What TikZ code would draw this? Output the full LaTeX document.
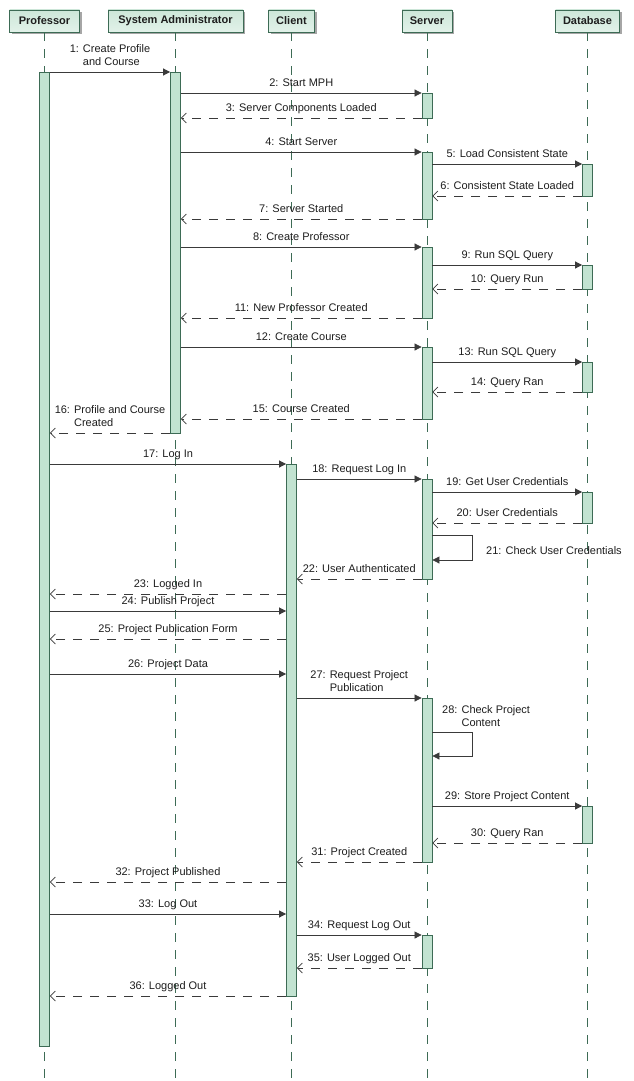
\documentclass[tikz,border=0pt]{standalone}
\usepackage{fontspec}
\setmainfont{Liberation Sans}
\usetikzlibrary{arrows.meta,shadows}

\definecolor{hdrtop}{HTML}{CDE7D9}
\definecolor{hdrbot}{HTML}{E2F2E9}
\definecolor{barfill}{HTML}{C2E3D1}
\definecolor{edge}{HTML}{3D6B55}
\definecolor{ink}{HTML}{3A3A3A}
\definecolor{txt}{HTML}{1E1E1E}

% activation bar on a lifeline: name, lifeline head, top, bottom
\newcommand\actbar[4]{%
  \node[bar, minimum height={(#4-#3)*1pt}, anchor=north] (#1) at (#2.south |- 0,#3) {};}
% label with the text after the number hanging under the first line
\newcommand\twoline[3]{\begin{tabular}[b]{@{}l@{ }l@{}}#1 & #2\\ & #3\end{tabular}}

\begin{document}
\begin{tikzpicture}[x=1pt,y=-1pt,
  every node/.style={text=txt},
  head/.style={draw=edge, top color=hdrtop, bottom color=hdrbot, line width=0.8pt,
    minimum height=22pt, inner sep=0pt, font=\fontsize{11}{12}\selectfont\bfseries,
    drop shadow={shadow xshift=2pt, shadow yshift=-2pt, fill=black!35, opacity=1}},
  bar/.style={draw=edge, fill=barfill, line width=0.8pt, minimum width=10pt, inner sep=0pt},
  life/.style={draw=edge, line width=0.7pt, dash pattern=on 9pt off 8pt},
  call/.style={draw=ink, line width=0.7pt, -{Triangle[length=7pt,width=7pt]}},
  ret/.style={draw=ink, line width=0.7pt, dash pattern=on 9pt off 8pt,
    -{Straight Barb[length=5pt,width=10pt,line width=0.7pt]}},
  lab/.style={midway, anchor=base, inner sep=0pt, yshift=6.5pt,
    font=\fontsize{11}{13}\selectfont},
  side/.style={anchor=base west, inner sep=0pt, font=\fontsize{11}{13}\selectfont},
]
\useasboundingbox[fill=white] (0,0) rectangle (633,1081);

% participants
\node[head, minimum width=70pt]  (prof) at (44.5,21)  {Professor};
\node[head, minimum width=135pt] (sa)   at (175.5,21) {System Administrator};
\node[head, minimum width=46pt]  (cl)   at (291.5,21) {Client};
\node[head, minimum width=50pt]  (sv)   at (427,21)   {Server};
\node[head, minimum width=64pt]  (db)   at (587.5,21) {Database};

% lifelines
\foreach \p in {prof,sa,cl,sv,db}
  \draw[life] (\p.south) -- (\p.south |- 0,1081);

% activation bars
\actbar{pa}{prof}{72}{1046}
\actbar{sa1}{sa}{72}{433}
\actbar{c1}{cl}{464}{996}
\actbar{s1}{sv}{93}{118}
\actbar{s2}{sv}{152}{219}
\actbar{s3}{sv}{247}{318}
\actbar{s4}{sv}{347}{419}
\actbar{s5}{sv}{479}{579}
\actbar{s6}{sv}{698}{862}
\actbar{s7}{sv}{935}{968}
\actbar{d1}{db}{164}{196}
\actbar{d2}{db}{265}{289}
\actbar{d3}{db}{362}{392}
\actbar{d4}{db}{492}{523}
\actbar{d5}{db}{806}{843}

% messages
\draw[call] (pa.east |- 0,72) -- (sa1.west |- 0,72)
  node[lab] {\twoline{1:}{Create Profile}{and Course}};
\draw[call] (sa1.east |- 0,93) -- (s1.west |- 0,93) node[lab] {2: Start MPH};
\draw[ret] (s1.west |- 0,118) -- (sa1.east |- 0,118) node[lab] {3: Server Components Loaded};
\draw[call] (sa1.east |- 0,152) -- (s2.west |- 0,152) node[lab] {4: Start Server};
\draw[call] (s2.east |- 0,164) -- (d1.west |- 0,164) node[lab] {5: Load Consistent State};
\draw[ret] (d1.west |- 0,196) -- (s2.east |- 0,196) node[lab] {6: Consistent State Loaded};
\draw[ret] (s2.west |- 0,219) -- (sa1.east |- 0,219) node[lab] {7: Server Started};
\draw[call] (sa1.east |- 0,247) -- (s3.west |- 0,247) node[lab] {8: Create Professor};
\draw[call] (s3.east |- 0,265) -- (d2.west |- 0,265) node[lab] {9: Run SQL Query};
\draw[ret] (d2.west |- 0,289) -- (s3.east |- 0,289) node[lab] {10: Query Run};
\draw[ret] (s3.west |- 0,318) -- (sa1.east |- 0,318) node[lab] {11: New Professor Created};
\draw[call] (sa1.east |- 0,347) -- (s4.west |- 0,347) node[lab] {12: Create Course};
\draw[call] (s4.east |- 0,362) -- (d3.west |- 0,362) node[lab] {13: Run SQL Query};
\draw[ret] (d3.west |- 0,392) -- (s4.east |- 0,392) node[lab] {14: Query Ran};
\draw[ret] (s4.west |- 0,419) -- (sa1.east |- 0,419) node[lab] {15: Course Created};
\draw[ret] (sa1.west |- 0,433) -- (pa.east |- 0,433)
  node[lab] {\twoline{16:}{Profile and Course}{Created}};
\draw[call] (pa.east |- 0,464) -- (c1.west |- 0,464) node[lab] {17: Log In};
\draw[call] (c1.east |- 0,479) -- (s5.west |- 0,479) node[lab] {18: Request Log In};
\draw[call] (s5.east |- 0,492) -- (d4.west |- 0,492) node[lab] {19: Get User Credentials};
\draw[ret] (d4.west |- 0,523) -- (s5.east |- 0,523) node[lab] {20: User Credentials};
\draw[call] (s5.east |- 0,535) -- ++(40,0) |- (s5.east |- 0,560);
\node[side] (m21) at (486,554) {21: Check User Credentials};
\draw[ret] (s5.west |- 0,579) -- (c1.east |- 0,579) node[lab] {22: User Authenticated};
\draw[ret] (c1.west |- 0,594) -- (pa.east |- 0,594) node[lab] {23: Logged In};
\draw[call] (pa.east |- 0,611) -- (c1.west |- 0,611) node[lab] {24: Publish Project};
\draw[ret] (c1.west |- 0,639) -- (pa.east |- 0,639) node[lab] {25: Project Publication Form};
\draw[call] (pa.east |- 0,674) -- (c1.west |- 0,674) node[lab] {26: Project Data};
\draw[call] (c1.east |- 0,698) -- (s6.west |- 0,698)
  node[lab] {\twoline{27:}{Request Project}{Publication}};
\draw[call] (s6.east |- 0,732) -- ++(40,0) |- (s6.east |- 0,756);
\node[side] (m28) at (442,726) {\twoline{28:}{Check Project}{Content}};
\draw[call] (s6.east |- 0,806) -- (d5.west |- 0,806) node[lab] {29: Store Project Content};
\draw[ret] (d5.west |- 0,843) -- (s6.east |- 0,843) node[lab] {30: Query Ran};
\draw[ret] (s6.west |- 0,862) -- (c1.east |- 0,862) node[lab] {31: Project Created};
\draw[ret] (c1.west |- 0,882) -- (pa.east |- 0,882) node[lab] {32: Project Published};
\draw[call] (pa.east |- 0,914) -- (c1.west |- 0,914) node[lab] {33: Log Out};
\draw[call] (c1.east |- 0,935) -- (s7.west |- 0,935) node[lab] {34: Request Log Out};
\draw[ret] (s7.west |- 0,968) -- (c1.east |- 0,968) node[lab] {35: User Logged Out};
\draw[ret] (c1.west |- 0,996) -- (pa.east |- 0,996) node[lab] {36: Logged Out};
\end{tikzpicture}
\end{document}
